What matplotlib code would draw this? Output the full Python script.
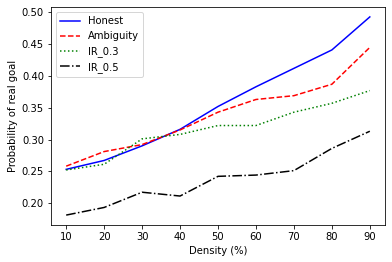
import matplotlib
matplotlib.use("Agg")
import matplotlib.pyplot as plt

density = [10, 20, 30, 40, 50, 60, 70, 80, 90]
honest = [0.253, 0.267, 0.290, 0.316, 0.352, 0.383, 0.412, 0.441, 0.493]
ambiguity = [0.258, 0.281, 0.292, 0.315, 0.343, 0.363, 0.369, 0.387, 0.445]
ir_03 = [0.252, 0.261, 0.301, 0.308, 0.322, 0.322, 0.343, 0.357, 0.377]
ir_05 = [0.181, 0.193, 0.217, 0.211, 0.242, 0.244, 0.251, 0.286, 0.313]

fig = plt.figure(figsize=(392 / 72, 262 / 72), dpi=72)
ax = fig.add_axes([51 / 392, 1 - 225 / 262, 334 / 392, 218 / 262])
ax.plot(density, honest, "b-", label="Honest")
ax.plot(density, ambiguity, "r--", label="Ambiguity")
ax.plot(density, ir_03, "g:", label="IR_0.3")
ax.plot(density, ir_05, "k-.", label="IR_0.5")
ax.set_xticks(density)
ax.set_xlabel("Density (%)")
ax.set_ylabel("Probability of real goal")
ax.legend(loc="upper left")
fig.savefig("out.png", dpi=72)
